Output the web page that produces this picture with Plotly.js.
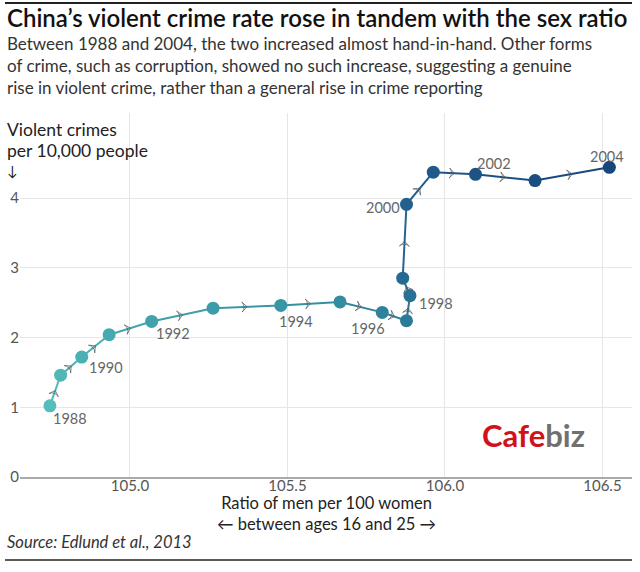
<!DOCTYPE html>
<html><head><meta charset="utf-8">
<script src="https://cdn.plot.ly/plotly-3.0.1.min.js"></script>
<style>body{margin:0;background:#fff}#chart{width:640px;height:572px}</style>
</head><body><div id="chart"></div>
<script>
// ---- data ----
const years = [1988,1989,1990,1991,1992,1993,1994,1995,1996,1997,1998,1999,2000,2001,2002,2003,2004];
const sexRatio = [104.746,104.780,104.847,104.934,105.069,105.264,105.479,105.667,105.801,105.878,105.889,105.866,105.878,105.963,106.097,106.286,106.522];
const crimeRate = [1.02,1.46,1.72,2.04,2.23,2.42,2.46,2.51,2.36,2.24,2.60,2.85,3.91,4.37,4.34,4.25,4.44];
const labelYears = [1988,1990,1992,1994,1996,1998,2000,2002,2004];
const xTickVals = [105.0,105.5,106.0,106.5];
const xTickText = ['105.0','105.5','106.0','106.5'];
const yTickVals = [0,1,2,3,4];

// ---- styles ----
const FONT = 'Lato, "Open Sans", sans-serif';
const colorStops = [[0,'#55bdbb'],[0.375,'#3795a4'],[0.5,'#2e8299'],[0.75,'#23608e'],[1,'#17467c']];
const labelOffsets = {1988:[20,-13],1990:[24,-10],1992:[21,-12],1994:[15,-16],1996:[-14,-16],1998:[26,-8],2000:[-24,-3],2002:[19,11],2004:[-2,11]};

function hexToRgb(h){return [1,3,5].map(i=>parseInt(h.substr(i,2),16));}
function colorAt(t){
  for(let k=1;k<colorStops.length;k++){
    if(t<=colorStops[k][0]){
      const [t0,c0]=colorStops[k-1],[t1,c1]=colorStops[k];
      const f=(t-t0)/(t1-t0), a=hexToRgb(c0), b=hexToRgb(c1);
      return 'rgb('+a.map((v,i)=>Math.round(v+(b[i]-v)*f)).join(',')+')';
    }
  }
  return colorStops[colorStops.length-1][1];
}

const traces = [];
const n = years.length;
for(let i=0;i<n-1;i++){
  traces.push({type:'scatter',mode:'lines',x:[sexRatio[i],sexRatio[i+1]],y:[crimeRate[i],crimeRate[i+1]],
    line:{color:colorAt((i+0.5)/(n-1)),width:2},hoverinfo:'skip',showlegend:false});
}
const ax=[],ay=[],as=[];
for(let i=0;i<n-1;i++){
  ax.push(sexRatio[i]); ay.push(crimeRate[i]); as.push(0);
  ax.push((sexRatio[i]+sexRatio[i+1])/2); ay.push((crimeRate[i]+crimeRate[i+1])/2); as.push(7);
}
traces.push({type:'scatter',mode:'markers',x:ax,y:ay,
  marker:{symbol:'arrow-wide-open',size:as,angleref:'previous',color:'#555',line:{color:'#555',width:1}},
  hoverinfo:'skip',showlegend:false});
traces.push({type:'scatter',mode:'markers',x:sexRatio,y:crimeRate,
  marker:{size:13,color:years,cmin:years[0],cmax:years[n-1],colorscale:colorStops,showscale:false,line:{width:0}},
  hoverinfo:'skip',showlegend:false});

const L=20,T=113,W=612,H=364;
const px=p=>(p-L)/W, py=p=>(T+H-p)/H;
function txt(x,y,text,size,color,anchor,weight){
  return {xref:'paper',yref:'paper',x:px(x),y:py(y),xanchor:anchor||'left',yanchor:'middle',
    align:anchor==='center'?'center':'left',showarrow:false,text:text,font:{family:FONT,size:size,color:color,weight:weight||'normal'}};
}

const annotations = labelYears.map(yr=>{
  const i=years.indexOf(yr); const o=labelOffsets[yr];
  return {x:sexRatio[i],y:crimeRate[i],xref:'x',yref:'y',text:String(yr),showarrow:false,
    xshift:o[0],yshift:o[1],font:{family:FONT,size:14.5,color:'#666'}};
});
annotations.push(
  txt(5,17,'China’s violent crime rate rose in tandem with the sex ratio',24,'#111','left',600),
  txt(5,65.5,'Between 1988 and 2004, the two increased almost hand-in-hand. Other forms<br>of crime, such as corruption, showed no such increase, suggesting a genuine<br>rise in violent crime, rather than a general rise in crime reporting',17,'#333'),
  txt(5,130,'Violent crimes',17.5,'#222'),
  txt(5,150,'per 10,000 people',17.5,'#222'),
  txt(5,170.5,'↓',14,'#222'),
  txt(326,513,'Ratio of men per 100 women<br>← between ages 16 and 25 →',16.5,'#222','center'),
  txt(5,542,'<i>Source: Edlund et al., 2013</i>',16.5,'#333'),
  txt(533,435,'<b><span style="color:#d0121b">Cafe</span><span style="color:#707070">biz</span></b>',31,'#707070','center')
);

const layout = {
  width:640,height:572,margin:{l:L,r:640-L-W,t:T,b:572-T-H},
  paper_bgcolor:'#fff',plot_bgcolor:'#fff',
  xaxis:{range:[104.651,104.651+W/315],tickvals:xTickVals,ticktext:xTickText,showgrid:true,gridcolor:'#e6e6e6',gridwidth:1,
    zeroline:false,showline:true,linecolor:'#aaa',linewidth:2,ticks:'',tickfont:{family:FONT,size:15,color:'#555'},ticklabelstandoff:-6},
  yaxis:{range:[0,H/69.75],tickvals:yTickVals,showgrid:true,gridcolor:'#e6e6e6',gridwidth:1,zeroline:false,
    showline:false,ticks:'',tickfont:{family:FONT,size:15,color:'#555'},ticklabelstandoff:0},
  shapes:[
    {type:'line',xref:'paper',yref:'paper',x0:px(5),x1:px(632),y0:py(3),y1:py(3),line:{color:'#222',width:2}},
    {type:'line',xref:'paper',yref:'paper',x0:px(5),x1:px(632),y0:py(560),y1:py(560),line:{color:'#222',width:1.5}}
  ],
  annotations:annotations,showlegend:false
};
Plotly.newPlot('chart',traces,layout,{staticPlot:true,displayModeBar:false});
</script></body></html>
